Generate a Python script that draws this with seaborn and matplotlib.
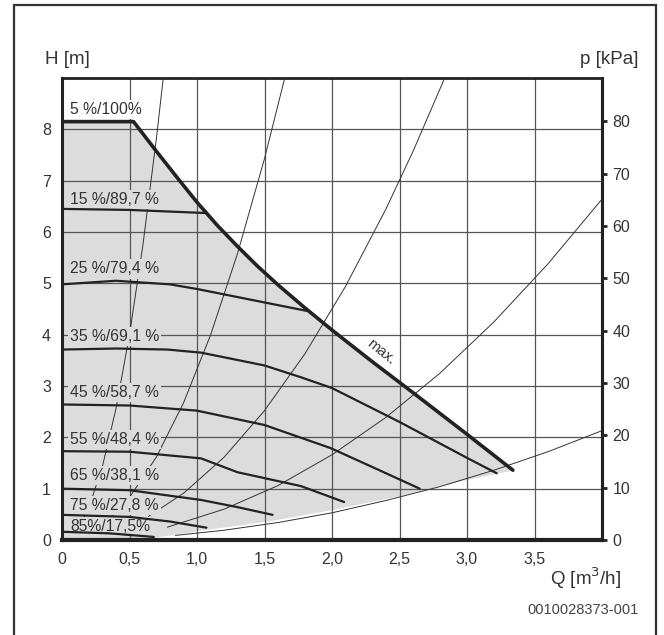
"""Pump curve chart: head H over flow Q with speed curves and system curves"""

import matplotlib.pyplot as plt
import numpy as np
import pandas as pd
import seaborn as sns

sns.set_style("white")
plt.rcParams['font.family'] = ['Liberation Sans', 'DejaVu Sans']

# max curve (5 %/100 % top line plus the descending max line)
MAX_Q = [0, 0.53, 0.7, 0.85, 1.0, 1.15, 1.3, 1.45, 1.6, 1.8, 2.0, 2.3, 2.6, 3.0, 3.34]
MAX_H = [8.15, 8.15, 7.57, 7.07, 6.58, 6.13, 5.72, 5.33, 4.97, 4.52, 4.09, 3.47,
         2.87, 2.06, 1.36]

# lower edge of the grey operating area (read right to left)
EDGE_Q = [3.3, 3.0, 2.51, 2.0, 1.55, 1.0, 0.68, 0.68]
EDGE_H = [1.33, 1.17, 0.86, 0.58, 0.37, 0.17, 0.04, 0.0]

SPEED_LABELS = ["5 %/100%", "15 %/89,7 %", "25 %/79,4 %", "35 %/69,1 %",
                "45 %/58,7 %", "55 %/48,4 %", "65 %/38,1 %", "75 %/27,8 %",
                "85%/17,5%"]
LABEL_H = [8.38, 6.63, 5.28, 3.96, 2.88, 1.95, 1.25, 0.67, 0.27]

# speed curves (the 5 % curve is the top of the max line)
SPEED_Q = [
    [0, 0.5, 1.06],
    [0, 0.4, 0.8, 1.0, 1.4, 1.82],
    [0, 0.4, 0.78, 1.03, 1.5, 1.77, 2.0, 2.5, 3.0, 3.22],
    [0, 0.5, 1.0, 1.5, 1.99, 2.3, 2.65],
    [0, 0.5, 1.03, 1.3, 1.77, 2.09],
    [0, 0.5, 1.03, 1.3, 1.56],
    [0, 0.5, 0.8, 1.07],
    [0, 0.35, 0.68],
]
SPEED_H = [
    [6.45, 6.43, 6.37],
    [4.98, 5.05, 4.98, 4.89, 4.68, 4.46],
    [3.71, 3.73, 3.71, 3.65, 3.4, 3.17, 2.96, 2.3, 1.6, 1.30],
    [2.64, 2.62, 2.52, 2.24, 1.79, 1.42, 1.0],
    [1.73, 1.72, 1.59, 1.32, 1.05, 0.74],
    [1.0, 0.97, 0.78, 0.64, 0.49],
    [0.49, 0.45, 0.36, 0.24],
    [0.16, 0.13, 0.06],
]

# thin system curves
SYS_Q = [
    [0.12, 0.2, 0.3, 0.4, 0.5, 0.6, 0.7, 0.75],
    [0.35, 0.5, 0.7, 0.9, 1.1, 1.3, 1.5, 1.65],
    [0.64, 0.9, 1.2, 1.5, 1.8, 2.1, 2.4, 2.6, 2.83],
    [0.78, 1.2, 1.6, 2.0, 2.4, 2.8, 3.2, 3.6, 4.0],
    [0.84, 1.2, 1.6, 2.0, 2.4, 2.8, 3.2, 3.6, 4.0],
]
SYS_H = [
    [0.23, 0.64, 1.44, 2.56, 4.0, 5.76, 7.84, 9.0],
    [0.40, 0.83, 1.62, 2.67, 3.99, 5.58, 7.43, 9.0],
    [0.46, 0.91, 1.61, 2.52, 3.63, 4.94, 6.45, 7.57, 8.97],
    [0.25, 0.60, 1.06, 1.66, 2.39, 3.25, 4.25, 5.38, 6.64],
    [0.09, 0.19, 0.34, 0.53, 0.77, 1.04, 1.36, 1.72, 2.13],
]

X_TICKS = [0, 0.5, 1.0, 1.5, 2.0, 2.5, 3.0, 3.5]
X_TICK_LABELS = ["0", "0,5", "1,0", "1,5", "2,0", "2,5", "3,0", "3,5"]
Y_TICKS = [0, 1, 2, 3, 4, 5, 6, 7, 8]
P_TICKS = [0, 10, 20, 30, 40, 50, 60, 70, 80]

FILL = '#dcdcdc'
INK = '#222222'
TXT = '#333333'


def render_plot():
    fig = plt.figure(figsize=(6.64, 6.35), dpi=100)
    ax = fig.add_axes([62 / 664, 1 - 540 / 635, 540 / 664, 462 / 635])

    # grey operating area
    poly_q = [0] + MAX_Q + EDGE_Q + [0]
    poly_h = [0] + MAX_H + EDGE_H + [0]
    ax.fill(poly_q, poly_h, color=FILL, lw=0, zorder=1)

    # grid
    for q in np.arange(0.5, 4.0, 0.5):
        ax.axvline(q, color='#555555', lw=0.9, zorder=2)
    for h in range(1, 9):
        ax.axhline(h, color='#555555', lw=0.9, zorder=2)

    # system curves
    for q, h in zip(SYS_Q, SYS_H):
        sns.lineplot(x=q, y=h, ax=ax, sort=False, estimator=None,
                     color='#333333', lw=0.7, zorder=3)

    # speed curve labels (boxes hide the grid behind them)
    for i, (lab, hy) in enumerate(zip(SPEED_LABELS, LABEL_H)):
        face = 'white' if i == 0 else FILL
        ax.text(0.06, hy, lab, fontsize=11.3, color=TXT, va='center', ha='left',
                zorder=4, bbox=dict(facecolor=face, edgecolor='none', pad=1.5))

    # speed curves
    for q, h in zip(SPEED_Q, SPEED_H):
        df = pd.DataFrame({'Q': q, 'H': h})
        sns.lineplot(data=df, x='Q', y='H', ax=ax, sort=False, estimator=None,
                     color=INK, lw=1.6, zorder=5)

    # max curve
    sns.lineplot(x=MAX_Q, y=MAX_H, ax=ax, sort=False, estimator=None,
                 color=INK, lw=2.6, zorder=6)
    ax.text(2.36, 3.66, "max.", fontsize=10.5, color=TXT, rotation=-39,
            ha='center', va='center', zorder=6)

    ax.set_xlim(0, 4.0)
    ax.set_ylim(0, 9.0)
    ax.set_xticks(X_TICKS)
    ax.set_xticklabels(X_TICK_LABELS)
    ax.set_yticks(Y_TICKS)
    ax.set_xlabel("")
    ax.set_ylabel("")
    ax.tick_params(axis='both', length=0, labelsize=11.5, labelcolor=TXT)
    ax.tick_params(axis='x', pad=9)
    ax.tick_params(axis='y', pad=8)

    for side, lw in (('left', 2.2), ('bottom', 3.0), ('top', 2.0), ('right', 2.2)):
        ax.spines[side].set_visible(True)
        ax.spines[side].set_linewidth(lw)
        ax.spines[side].set_color(INK)

    # pressure axis on the right
    ax2 = ax.twinx()
    ax2.set_ylim(0, 9.0 * 9.81)
    ax2.set_yticks(P_TICKS)
    ax2.tick_params(axis='y', length=3.5, width=2, color=INK, labelsize=11.5,
                    labelcolor=TXT, pad=4)
    for side in ('left', 'bottom', 'top'):
        ax2.spines[side].set_visible(False)
    ax2.spines['right'].set_linewidth(2.2)
    ax2.spines['right'].set_color(INK)

    fig.text(45 / 664, 1 - 60 / 635, "H [m]", fontsize=13.5, color=TXT,
             ha='left', va='center')
    fig.text(638 / 664, 1 - 60 / 635, "p [kPa]", fontsize=13.5, color=TXT,
             ha='right', va='center')
    fig.text(621 / 664, 1 - 578 / 635, "Q [m$^3$/h]", fontsize=13.5, color=TXT,
             ha='right', va='center')
    fig.text(639 / 664, 1 - 610 / 635, "0010028373-001", fontsize=10.5,
             color='#444444', ha='right', va='center')

    # outer frame, open at the bottom
    fig.add_artist(plt.Rectangle((14 / 664, -0.05), 642 / 664, 1.05 - 5 / 635,
                                 transform=fig.transFigure, fill=False,
                                 lw=1.6, ec='#333333', clip_on=False))

    fig.savefig("out.png", dpi=100)
    plt.close(fig)


render_plot()
